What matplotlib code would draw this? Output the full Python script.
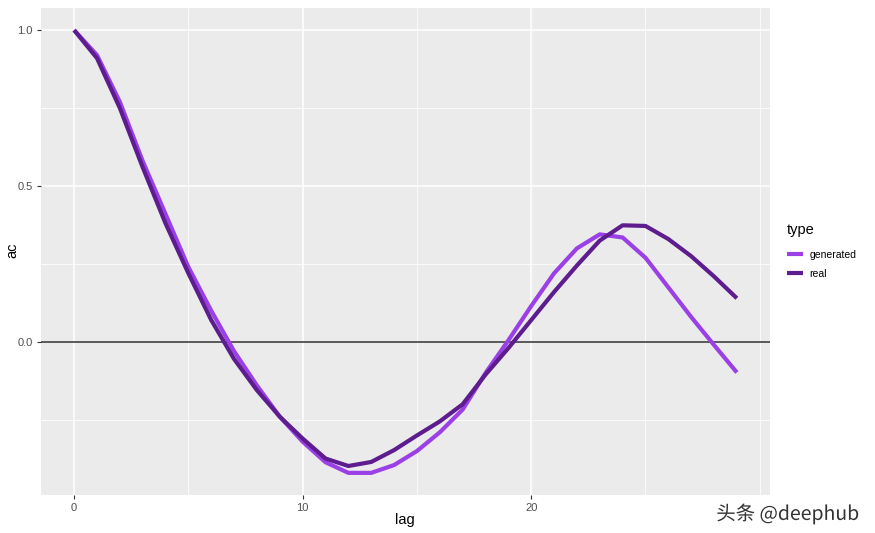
import numpy as np
import matplotlib
matplotlib.use("Agg")
from matplotlib import pyplot as plt
import matplotlib.patheffects as pe

# autocorrelation by lag
lag = list(range(30))
generated = [1.0, 0.92, 0.77, 0.58, 0.41, 0.24, 0.10, -0.03, -0.14, -0.24,
             -0.32, -0.386, -0.42, -0.42, -0.395, -0.35, -0.29, -0.217, -0.10, 0.005,
             0.115, 0.22, 0.30, 0.345, 0.335, 0.27, 0.175, 0.08, -0.01, -0.098]
real = [1.0, 0.91, 0.75, 0.56, 0.38, 0.22, 0.07, -0.055, -0.155, -0.24,
        -0.31, -0.374, -0.398, -0.385, -0.347, -0.30, -0.255, -0.20, -0.105, -0.02,
        0.07, 0.16, 0.245, 0.325, 0.374, 0.372, 0.33, 0.275, 0.21, 0.14]
series = ["generated", "real"]
colors = {"generated": "#9B3FE6", "real": "#5E1D8E"}

plt.rcParams['font.family'] = ['Liberation Sans', 'DejaVu Sans']

fig = plt.figure(figsize=(8.75, 5.33), dpi=100)
ax = fig.add_axes([41/875, 1 - 495/533, (770 - 41)/875, (495 - 8)/533])
ax.set_facecolor("#EBEBEB")

# ggplot-ish limits with 5% expansion
allv = generated + real
lo, hi = min(allv), max(allv)
ax.set_xlim(-0.05 * 29, 29 * 1.05)
ax.set_ylim(lo - 0.05 * (hi - lo), hi + 0.05 * (hi - lo))

for v in [5, 15, 25, 30]:
    ax.axvline(v, color="white", lw=0.55, zorder=0)
for v in [-0.25, 0.25, 0.75]:
    ax.axhline(v, color="white", lw=0.55, zorder=0)
for v in [0, 10, 20]:
    ax.axvline(v, color="white", lw=1.1, zorder=0)
for v in [0.0, 0.5, 1.0]:
    ax.axhline(v, color="white", lw=1.1, zorder=0)

ax.axhline(0, color="#4D4D4D", lw=1.3, zorder=1)

for name, vals in [("generated", generated), ("real", real)]:
    ax.plot(lag, vals, color=colors[name], lw=3, label=name, zorder=2,
            solid_capstyle="butt")

ax.set_xticks([0, 10, 20])
ax.set_yticks([0.0, 0.5, 1.0])
ax.set_yticklabels(["0.0", "0.5", "1.0"])
ax.tick_params(colors="#333333", labelcolor="#4D4D4D", labelsize=8, length=3, width=0.8,
               pad=3)
for s in ax.spines.values():
    s.set_visible(False)

fig.text(405/875, 1 - 520/533, "lag", ha="center", va="center", fontsize=10.5)
fig.text(12/875, 1 - 250/533, "ac", ha="center", va="center", fontsize=10.5,
         rotation=90)

leg = ax.legend(title="type", loc="upper left", bbox_to_anchor=(1.01, 0.577),
                frameon=False, fontsize=7.5, title_fontsize=10.5, handlelength=1.6,
                handleheight=1.0, handletextpad=0.6, labelspacing=0.85)
leg._legend_box.align = "left"
leg._legend_box.sep = 9
for h in leg.get_lines():
    h.set_linewidth(3)

fig.text(0.982, 0.035, "头条 @deephub", ha="right", va="center", fontsize=14,
         color="#333333", family=['Noto Sans CJK SC', 'DejaVu Sans'],
         path_effects=[pe.withStroke(linewidth=2, foreground="white")])

fig.savefig("out.png", dpi=100)
